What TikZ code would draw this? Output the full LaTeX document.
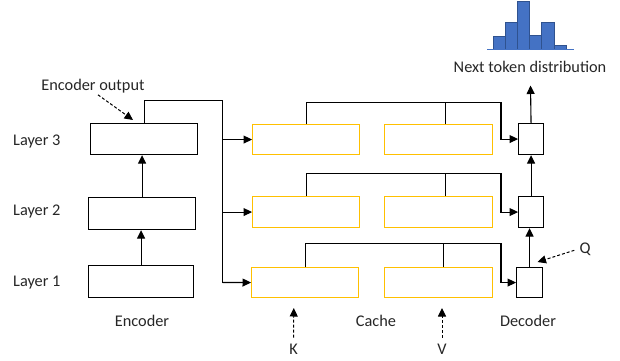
\documentclass[tikz,border=0pt]{standalone}
\usepackage{fontspec}
\setmainfont{Carlito}
\usetikzlibrary{arrows.meta}
\definecolor{cacheyellow}{HTML}{FFC000}
\definecolor{barblue}{HTML}{4472C4}
\definecolor{bardark}{HTML}{2F528F}
\definecolor{txt}{HTML}{262626}
\begin{document}
\begin{tikzpicture}[x=1pt,y=-1pt,
  box/.style={draw=black, line width=1.1pt, inner sep=0pt, anchor=north west},
  cbox/.style={draw=cacheyellow, line width=1.1pt, inner sep=0pt, anchor=north west},
  lbl/.style={font=\fontsize{16.3}{18}\selectfont, text=txt, inner sep=0pt, anchor=base},
  arr/.style={-{Triangle[length=8.5pt,width=8pt]}, line width=1.1pt},
  darr/.style={-{Triangle[length=8.5pt,width=8pt]}, line width=1pt, dash pattern=on 3pt off 2pt},
  conn/.style={line width=1.1pt}
]
\useasboundingbox (0,0) rectangle (620,360);

% histogram
\foreach \x/\t in {493/36,505.2/22.3,517.4/1,529.6/35.3,541.8/22.3,554/45}{
  \draw[fill=barblue, draw=bardark, line width=0.7pt] (\x,49) rectangle ++(12.2,\t-49);
}
\draw[barblue, line width=1.3pt] (487,49.5) -- (574,49.5);

% labels
\node[lbl] (ntd) at (530,72.7) {Next token distribution};
\node[lbl] (eot) at (93,90) {Encoder output};
\node[lbl, anchor=base west] (l3) at (13,145) {Layer 3};
\node[lbl, anchor=base west] (l2) at (13,215) {Layer 2};
\node[lbl, anchor=base west] (l1) at (13,286) {Layer 1};
\node[lbl] (enc) at (142,326.7) {Encoder};
\node[lbl] (cache) at (376,326.7) {Cache};
\node[lbl] (dec) at (528,326.7) {Decoder};
\node[lbl] (k) at (293.5,354.3) {K};
\node[lbl] (v) at (442,354.3) {V};
\node[lbl] (q) at (585,253.5) {Q};

% encoder boxes
\node[box, minimum width=107pt, minimum height=31pt] (e3) at (90,123) {};
\node[box, minimum width=107pt, minimum height=32pt] (e2) at (88,197) {};
\node[box, minimum width=105pt, minimum height=32pt] (e1) at (88,265) {};

% cache boxes
\node[cbox, minimum width=107pt, minimum height=30pt] (c31) at (252,124) {};
\node[cbox, minimum width=108pt, minimum height=30pt] (c32) at (384,124) {};
\node[cbox, minimum width=107pt, minimum height=31pt] (c21) at (252,196) {};
\node[cbox, minimum width=108pt, minimum height=31pt] (c22) at (384,196) {};
\node[cbox, minimum width=107pt, minimum height=30pt] (c11) at (251,267) {};
\node[cbox, minimum width=108pt, minimum height=30pt] (c12) at (384,267) {};

% decoder boxes
\node[box, minimum width=25pt, minimum height=31pt] (d3) at (518,123) {};
\node[box, minimum width=25pt, minimum height=31pt] (d2) at (518,196) {};
\node[box, minimum width=26pt, minimum height=30pt] (d1) at (516,267) {};

% encoder stack arrows
\draw[arr] (e1.north) -- (e1.north |- e2.south);
\draw[arr] (e2.north) -- (e2.north |- e3.south);

% encoder output bus
\coordinate (eo) at (222.5,100.5);
\coordinate (eb) at (222.5,282.5);
\draw[conn] (e3.north) |- (eo) -- (eb);
\draw[arr] (eo |- c31.west) -- (c31.west);
\draw[arr] (eo |- c21.west) -- (c21.west);
\draw[arr] (eb) -- (c11.west);
\coordinate (eoe) at (133,120);
\draw[darr] ([xshift=5pt,yshift=-2pt]eot.south) -- (eoe);

% cache to decoder
\coordinate (t3) at (501,102.5);
\coordinate (t2) at (501,173.5);
\coordinate (t1) at (501,243.5);
\draw[arr] (c31.north) |- (t3) |- (d3.west);
\draw[conn] ([xshift=6.5pt]c32.north) -- ([xshift=6.5pt]c32.north |- t3);
\draw[arr] (c21.north) |- (t2) |- (d2.west);
\draw[conn] ([xshift=6.5pt]c22.north) -- ([xshift=6.5pt]c22.north |- t2);
\draw[arr] (c11.north) |- (t1) |- (d1.west);
\draw[conn] ([xshift=4.5pt]c12.north) -- ([xshift=4.5pt]c12.north |- t1);

% decoder arrows
\draw[arr] (d1.north) -- (d1.north |- d2.south);
\draw[arr] (d2.north) -- (d2.north |- d3.south);
\coordinate (out) at (530.5,85.5);
\draw[arr] (d3.north) -- (out);

% Q, K, V
\coordinate (qe) at (537.5,262);
\draw[darr] ([xshift=-5pt,yshift=-1pt]q.west) -- (qe);
\coordinate (ke) at (293.8,308);
\coordinate (ve) at (442,308);
\draw[darr] ([yshift=6pt]k.north) -- (ke);
\draw[darr] ([yshift=6pt]v.north) -- (ve);
\end{tikzpicture}
\end{document}
